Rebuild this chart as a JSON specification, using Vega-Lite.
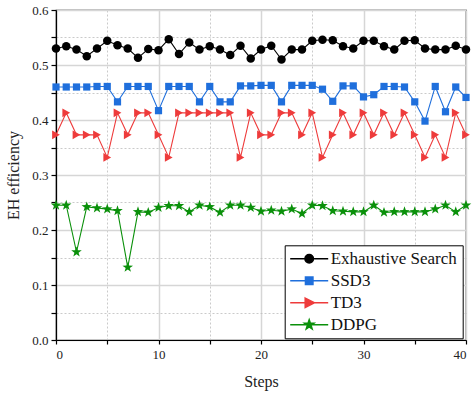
{
  "$schema": "https://vega.github.io/schema/vega-lite/v6.json",
  "width": 410,
  "height": 330,
  "autosize": "none",
  "padding": {"left": 56, "top": 10, "right": 7, "bottom": 54},
  "background": "white",
  "config": {
    "font": "Liberation Serif",
    "view": {"stroke": "black", "strokeWidth": 1.2},
    "axis": {
      "labelFont": "Liberation Serif",
      "titleFont": "Liberation Serif",
      "labelFontSize": 13,
      "titleFontSize": 16,
      "titleFontWeight": "normal",
      "labelColor": "#222",
      "titleColor": "#222",
      "domainColor": "black",
      "domainWidth": 1.2,
      "tickColor": "black",
      "tickWidth": 1.2
    }
  },
  "data": {
    "values": [
      {"step":0,"method":"Exhaustive Search","value":0.530},{"step":1,"method":"Exhaustive Search","value":0.534},{"step":2,"method":"Exhaustive Search","value":0.528},{"step":3,"method":"Exhaustive Search","value":0.516},{"step":4,"method":"Exhaustive Search","value":0.530},{"step":5,"method":"Exhaustive Search","value":0.544},{"step":6,"method":"Exhaustive Search","value":0.536},{"step":7,"method":"Exhaustive Search","value":0.530},{"step":8,"method":"Exhaustive Search","value":0.513},{"step":9,"method":"Exhaustive Search","value":0.529},{"step":10,"method":"Exhaustive Search","value":0.527},{"step":11,"method":"Exhaustive Search","value":0.547},{"step":12,"method":"Exhaustive Search","value":0.520},{"step":13,"method":"Exhaustive Search","value":0.541},{"step":14,"method":"Exhaustive Search","value":0.528},{"step":15,"method":"Exhaustive Search","value":0.534},{"step":16,"method":"Exhaustive Search","value":0.528},{"step":17,"method":"Exhaustive Search","value":0.518},{"step":18,"method":"Exhaustive Search","value":0.535},{"step":19,"method":"Exhaustive Search","value":0.512},{"step":20,"method":"Exhaustive Search","value":0.528},{"step":21,"method":"Exhaustive Search","value":0.535},{"step":22,"method":"Exhaustive Search","value":0.510},{"step":23,"method":"Exhaustive Search","value":0.528},{"step":24,"method":"Exhaustive Search","value":0.528},{"step":25,"method":"Exhaustive Search","value":0.544},{"step":26,"method":"Exhaustive Search","value":0.546},{"step":27,"method":"Exhaustive Search","value":0.545},{"step":28,"method":"Exhaustive Search","value":0.534},{"step":29,"method":"Exhaustive Search","value":0.530},{"step":30,"method":"Exhaustive Search","value":0.544},{"step":31,"method":"Exhaustive Search","value":0.544},{"step":32,"method":"Exhaustive Search","value":0.534},{"step":33,"method":"Exhaustive Search","value":0.528},{"step":34,"method":"Exhaustive Search","value":0.544},{"step":35,"method":"Exhaustive Search","value":0.545},{"step":36,"method":"Exhaustive Search","value":0.530},{"step":37,"method":"Exhaustive Search","value":0.528},{"step":38,"method":"Exhaustive Search","value":0.528},{"step":39,"method":"Exhaustive Search","value":0.535},{"step":40,"method":"Exhaustive Search","value":0.528},
      {"step":0,"method":"SSD3","value":0.460},{"step":1,"method":"SSD3","value":0.460},{"step":2,"method":"SSD3","value":0.460},{"step":3,"method":"SSD3","value":0.460},{"step":4,"method":"SSD3","value":0.461},{"step":5,"method":"SSD3","value":0.461},{"step":6,"method":"SSD3","value":0.433},{"step":7,"method":"SSD3","value":0.461},{"step":8,"method":"SSD3","value":0.461},{"step":9,"method":"SSD3","value":0.461},{"step":10,"method":"SSD3","value":0.417},{"step":11,"method":"SSD3","value":0.461},{"step":12,"method":"SSD3","value":0.461},{"step":13,"method":"SSD3","value":0.461},{"step":14,"method":"SSD3","value":0.433},{"step":15,"method":"SSD3","value":0.461},{"step":16,"method":"SSD3","value":0.433},{"step":17,"method":"SSD3","value":0.433},{"step":18,"method":"SSD3","value":0.462},{"step":19,"method":"SSD3","value":0.462},{"step":20,"method":"SSD3","value":0.463},{"step":21,"method":"SSD3","value":0.463},{"step":22,"method":"SSD3","value":0.433},{"step":23,"method":"SSD3","value":0.463},{"step":24,"method":"SSD3","value":0.463},{"step":25,"method":"SSD3","value":0.463},{"step":26,"method":"SSD3","value":0.456},{"step":27,"method":"SSD3","value":0.434},{"step":28,"method":"SSD3","value":0.462},{"step":29,"method":"SSD3","value":0.462},{"step":30,"method":"SSD3","value":0.442},{"step":31,"method":"SSD3","value":0.446},{"step":32,"method":"SSD3","value":0.461},{"step":33,"method":"SSD3","value":0.461},{"step":34,"method":"SSD3","value":0.460},{"step":35,"method":"SSD3","value":0.433},{"step":36,"method":"SSD3","value":0.398},{"step":37,"method":"SSD3","value":0.461},{"step":38,"method":"SSD3","value":0.415},{"step":39,"method":"SSD3","value":0.460},{"step":40,"method":"SSD3","value":0.441},
      {"step":0,"method":"TD3","value":0.373},{"step":1,"method":"TD3","value":0.413},{"step":2,"method":"TD3","value":0.373},{"step":3,"method":"TD3","value":0.373},{"step":4,"method":"TD3","value":0.373},{"step":5,"method":"TD3","value":0.332},{"step":6,"method":"TD3","value":0.413},{"step":7,"method":"TD3","value":0.373},{"step":8,"method":"TD3","value":0.413},{"step":9,"method":"TD3","value":0.413},{"step":10,"method":"TD3","value":0.373},{"step":11,"method":"TD3","value":0.332},{"step":12,"method":"TD3","value":0.413},{"step":13,"method":"TD3","value":0.413},{"step":14,"method":"TD3","value":0.413},{"step":15,"method":"TD3","value":0.413},{"step":16,"method":"TD3","value":0.413},{"step":17,"method":"TD3","value":0.413},{"step":18,"method":"TD3","value":0.332},{"step":19,"method":"TD3","value":0.413},{"step":20,"method":"TD3","value":0.373},{"step":21,"method":"TD3","value":0.373},{"step":22,"method":"TD3","value":0.413},{"step":23,"method":"TD3","value":0.413},{"step":24,"method":"TD3","value":0.373},{"step":25,"method":"TD3","value":0.413},{"step":26,"method":"TD3","value":0.332},{"step":27,"method":"TD3","value":0.373},{"step":28,"method":"TD3","value":0.413},{"step":29,"method":"TD3","value":0.373},{"step":30,"method":"TD3","value":0.413},{"step":31,"method":"TD3","value":0.373},{"step":32,"method":"TD3","value":0.413},{"step":33,"method":"TD3","value":0.373},{"step":34,"method":"TD3","value":0.413},{"step":35,"method":"TD3","value":0.373},{"step":36,"method":"TD3","value":0.332},{"step":37,"method":"TD3","value":0.373},{"step":38,"method":"TD3","value":0.332},{"step":39,"method":"TD3","value":0.413},{"step":40,"method":"TD3","value":0.373},
      {"step":0,"method":"DDPG","value":0.245},{"step":1,"method":"DDPG","value":0.245},{"step":2,"method":"DDPG","value":0.160},{"step":3,"method":"DDPG","value":0.242},{"step":4,"method":"DDPG","value":0.240},{"step":5,"method":"DDPG","value":0.238},{"step":6,"method":"DDPG","value":0.235},{"step":7,"method":"DDPG","value":0.132},{"step":8,"method":"DDPG","value":0.233},{"step":9,"method":"DDPG","value":0.232},{"step":10,"method":"DDPG","value":0.241},{"step":11,"method":"DDPG","value":0.244},{"step":12,"method":"DDPG","value":0.244},{"step":13,"method":"DDPG","value":0.233},{"step":14,"method":"DDPG","value":0.245},{"step":15,"method":"DDPG","value":0.242},{"step":16,"method":"DDPG","value":0.232},{"step":17,"method":"DDPG","value":0.245},{"step":18,"method":"DDPG","value":0.245},{"step":19,"method":"DDPG","value":0.241},{"step":20,"method":"DDPG","value":0.234},{"step":21,"method":"DDPG","value":0.236},{"step":22,"method":"DDPG","value":0.234},{"step":23,"method":"DDPG","value":0.238},{"step":24,"method":"DDPG","value":0.230},{"step":25,"method":"DDPG","value":0.245},{"step":26,"method":"DDPG","value":0.244},{"step":27,"method":"DDPG","value":0.235},{"step":28,"method":"DDPG","value":0.234},{"step":29,"method":"DDPG","value":0.233},{"step":30,"method":"DDPG","value":0.233},{"step":31,"method":"DDPG","value":0.245},{"step":32,"method":"DDPG","value":0.232},{"step":33,"method":"DDPG","value":0.233},{"step":34,"method":"DDPG","value":0.233},{"step":35,"method":"DDPG","value":0.233},{"step":36,"method":"DDPG","value":0.233},{"step":37,"method":"DDPG","value":0.238},{"step":38,"method":"DDPG","value":0.245},{"step":39,"method":"DDPG","value":0.233},{"step":40,"method":"DDPG","value":0.245}
    ]
  },
  "encoding": {
    "x": {
      "field": "step", "type": "quantitative", "title": "Steps",
      "scale": {"domain": [0, 40], "nice": false, "zero": false},
      "axis": {
        "values": [0,5,10,15,20,25,30,35,40],
        "labelExpr": "datum.value % 10 === 0 ? datum.value : ''",
        "tickSize": 4,
        "labelPadding": 4,
        "titlePadding": 12,
        "grid": true,
        "gridColor": {"condition": {"test": "datum.value % 10 !== 0", "value": "#bdbdbd"}, "value": "#d6d6d6"},
        "gridDash": {"condition": {"test": "datum.value % 10 !== 0", "value": [2, 2]}, "value": []},
        "gridWidth": {"condition": {"test": "datum.value % 10 !== 0", "value": 0.8}, "value": 1.5}
      }
    },
    "y": {
      "field": "value", "type": "quantitative", "title": "EH efficiency",
      "scale": {"domain": [0, 0.6], "nice": false},
      "axis": {
        "values": [0,0.05,0.1,0.15,0.2,0.25,0.3,0.35,0.4,0.45,0.5,0.55,0.6],
        "labelExpr": "abs(datum.value*10 - round(datum.value*10)) < 0.001 ? format(datum.value, '.1f') : ''",
        "tickSize": 5,
        "labelPadding": 3,
        "titlePadding": 10,
        "grid": true,
        "gridColor": {"condition": {"test": "abs(datum.value*10 - round(datum.value*10)) > 0.001", "value": "#bdbdbd"}, "value": "#d6d6d6"},
        "gridDash": {"condition": {"test": "abs(datum.value*10 - round(datum.value*10)) > 0.001", "value": [2, 2]}, "value": []},
        "gridWidth": {"condition": {"test": "abs(datum.value*10 - round(datum.value*10)) > 0.001", "value": 0.8}, "value": 1.5}
      }
    },
    "color": {
      "field": "method", "type": "nominal",
      "scale": {"domain": ["Exhaustive Search", "SSD3", "TD3", "DDPG"], "range": ["#000000", "#1f6fdc", "#ee3b3b", "#0a900a"]},
      "legend": {
        "title": null,
        "orient": "none",
        "legendX": 228.7,
        "legendY": 235.3,
        "padding": 5,
        "strokeColor": "black",
        "fillColor": "white",
        "cornerRadius": 0,
        "labelFont": "Liberation Serif",
        "labelFontSize": 17,
        "labelColor": "#111",
        "symbolSize": 100,
        "symbolOffset": 11,
        "labelOffset": 13,
        "rowPadding": 4,
        "symbolStrokeWidth": 1.5,
        "symbolOpacity": 1,
        "encode": {
          "symbols": {
            "update": {
              "shape": {"signal": "datum.value === 'Exhaustive Search' ? 'M-3.8,0H3.8M0.85,0A0.85,0.85,0,1,1,-0.85,0A0.85,0.85,0,1,1,0.85,0Z' : datum.value === 'SSD3' ? 'M-3.8,0H3.8M-0.75,-0.75H0.75V0.75H-0.75Z' : datum.value === 'TD3' ? 'M-3.8,0H3.8M-0.8,-0.95L1.05,0L-0.8,0.95Z' : 'M-3.8,0H3.8M0,-1L0.235,-0.324L0.951,-0.309L0.38,0.124L0.588,0.809L0,0.4L-0.588,0.809L-0.38,0.124L-0.951,-0.309L-0.235,-0.324Z'"},
              "stroke": {"signal": "scale('color', datum.value)"},
              "fill": {"signal": "scale('color', datum.value)"},
              "strokeWidth": {"value": 1.5},
              "opacity": {"value": 1},
              "size": {"value": 100}
            }
          }
        }
      }
    }
  },
  "layer": [
    {
      "mark": {"type": "line", "strokeWidth": 1.1},
      "encoding": {"detail": {"field": "method"}}
    },
    {
      "transform": [{"filter": {"field": "method", "equal": "Exhaustive Search"}}],
      "mark": {"type": "point", "filled": true, "opacity": 1, "size": 72, "shape": "circle"}
    },
    {
      "transform": [{"filter": {"field": "method", "equal": "SSD3"}}],
      "mark": {"type": "point", "filled": true, "opacity": 1, "size": 52, "shape": "square"}
    },
    {
      "transform": [{"filter": {"field": "method", "equal": "TD3"}}],
      "mark": {"type": "point", "filled": true, "opacity": 1, "size": 80, "shape": "triangle-right"}
    },
    {
      "transform": [{"filter": {"field": "method", "equal": "DDPG"}}],
      "mark": {"type": "point", "filled": true, "opacity": 1, "size": 72, "shape": "M0,-1.3L0.3,-0.42L1.24,-0.4L0.49,0.16L0.76,1.05L0,0.52L-0.76,1.05L-0.49,0.16L-1.24,-0.4L-0.3,-0.42Z"}
    }
  ]
}
